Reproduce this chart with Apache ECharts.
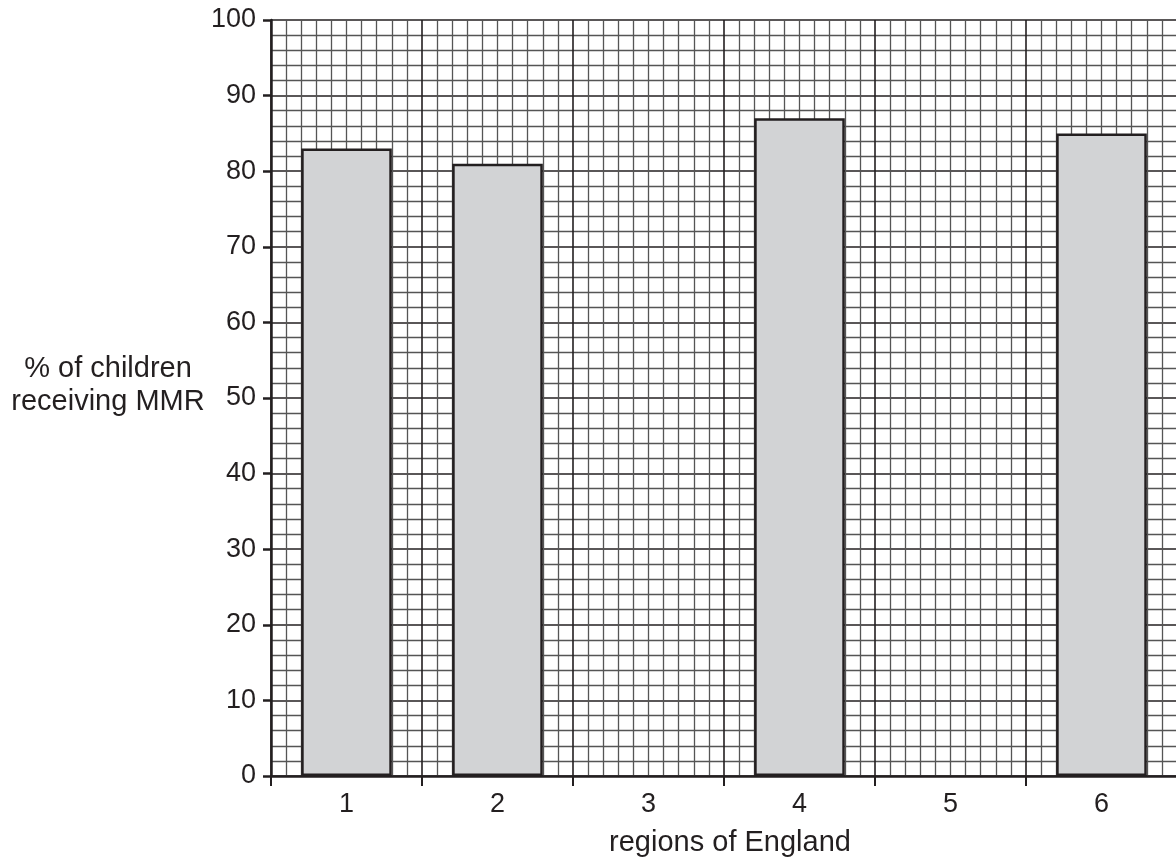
<!DOCTYPE html>
<html><head><meta charset="utf-8">
<script src="https://cdn.jsdelivr.net/npm/echarts@6/dist/echarts.min.js"></script>
<style>html,body{margin:0;padding:0;background:#fff}#c{width:1176px;height:858px}</style>
</head><body><div id="c"></div>
<script>
const categories = ['1','2','3','4','5','6'];
const mmrPercent = [83, 81, null, 87, null, 85];
const yAxisTitle = '% of children\nreceiving MMR';
const xAxisTitle = 'regions of England';

const ink = '#231f20';
const font = '"Liberation Sans", Arial, sans-serif';
const chart = echarts.init(document.getElementById('c'), null, {renderer:'canvas'});
chart.setOption({
  animation:false,
  backgroundColor:'#fff',
  grid:{left:271, top:20, width:906, height:756, containLabel:false, outerBoundsMode:'none'},
  xAxis:[{
    type:'category', data:categories, boundaryGap:true,
    axisLine:{lineStyle:{color:ink, width:2.5}},
    axisTick:{show:true, length:10, lineStyle:{color:ink, width:2}},
    axisLabel:{color:ink, fontSize:27, fontFamily:font, margin:15},
    splitLine:{show:false},
    name:xAxisTitle, nameLocation:'middle', nameGap:52,
    nameTextStyle:{color:ink, fontSize:29, fontFamily:font, padding:[0,0,0,12]}
  },{
    type:'value', min:0, max:6, interval:1, position:'top',
    axisLine:{show:false}, axisTick:{show:false}, axisLabel:{show:false},
    splitLine:{show:true, lineStyle:{color:ink, width:1.6}},
    minorTick:{show:false, splitNumber:10},
    minorSplitLine:{show:true, lineStyle:{color:'#555', width:1.3}}
  }],
  yAxis:{
    type:'value', min:0, max:100, interval:10,
    axisLine:{show:true, lineStyle:{color:ink, width:2.5}},
    axisTick:{show:true, length:8, lineStyle:{color:ink, width:2.5}},
    axisLabel:{color:ink, fontSize:27, fontFamily:font, margin:15},
    splitLine:{show:true, lineStyle:{color:ink, width:1.6}},
    minorTick:{show:false, splitNumber:5},
    minorSplitLine:{show:true, lineStyle:{color:'#555', width:1.3}}
  },
  graphic:[{
    type:'text', x:108, y:385,
    style:{text:yAxisTitle, fill:ink, font:'29px '+font, align:'center', verticalAlign:'middle', lineHeight:33}
  }],
  series:[{
    type:'bar', xAxisIndex:0, yAxisIndex:0, data:mmrPercent, barWidth:'60%',
    itemStyle:{color:'#d2d3d5', borderColor:ink, borderWidth:2.5},
    z:5
  }]
});
</script></body></html>
